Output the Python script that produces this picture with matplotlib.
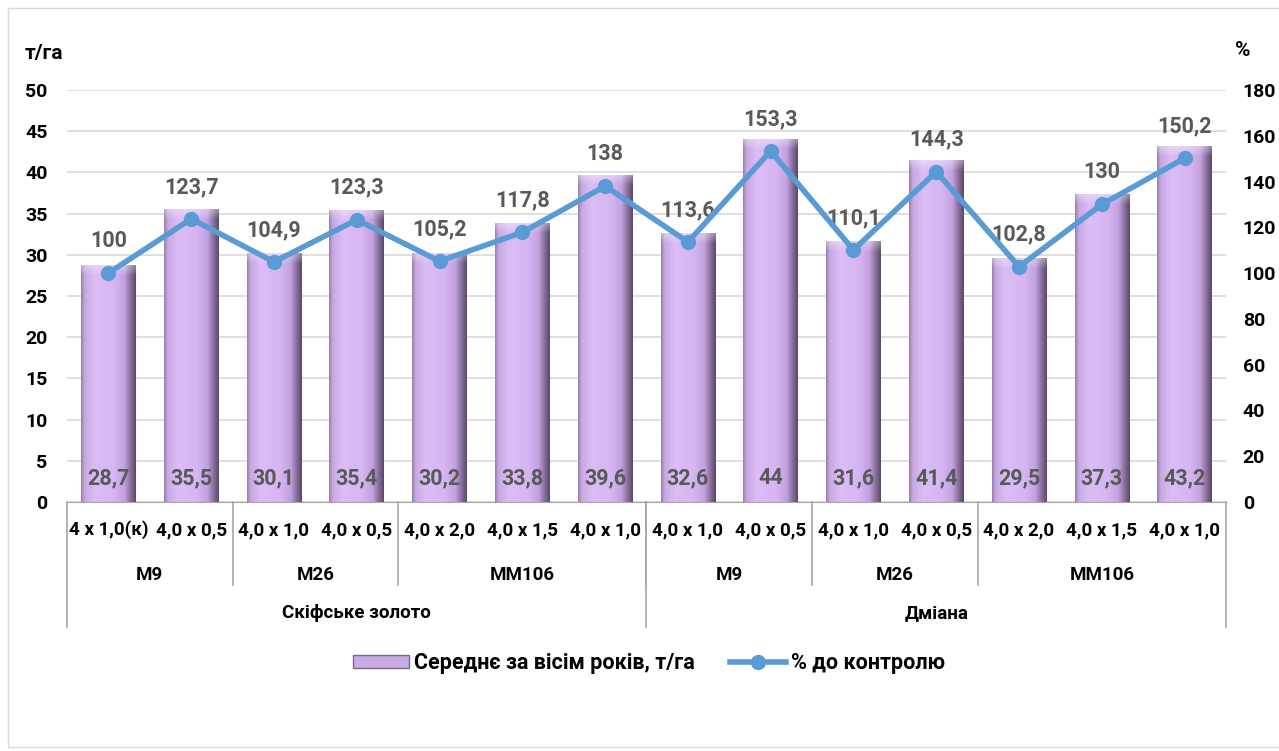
import numpy as np
import matplotlib
matplotlib.use('Agg')
import matplotlib.pyplot as plt
import matplotlib.transforms as mtransforms
from matplotlib.patches import Rectangle
from matplotlib.lines import Line2D

plt.rcParams['font.family'] = ['Roboto', 'DejaVu Sans']
plt.rcParams['font.weight'] = 'bold'

# ---- data ----
schemes = ['4 x 1,0(к)', '4,0 x 0,5', '4,0 x 1,0', '4,0 x 0,5', '4,0 x 2,0', '4,0 x 1,5', '4,0 x 1,0',
           '4,0 x 1,0', '4,0 x 0,5', '4,0 x 1,0', '4,0 x 0,5', '4,0 x 2,0', '4,0 x 1,5', '4,0 x 1,0']
rootstocks = ['М9', 'М26', 'ММ106', 'М9', 'М26', 'ММ106']
rootstock_sizes = [2, 2, 3, 2, 2, 3]
varieties = ['Скіфське золото', 'Дміана']
variety_sizes = [7, 7]
yield_t = [28.7, 35.5, 30.1, 35.4, 30.2, 33.8, 39.6, 32.6, 44, 31.6, 41.4, 29.5, 37.3, 43.2]
pct_control = [100, 123.7, 104.9, 123.3, 105.2, 117.8, 138, 113.6, 153.3, 110.1, 144.3, 102.8, 130, 150.2]

bar_label = 'Середнє за вісім років, т/га'
line_label = '% до контролю'

def fmt(v):
    s = ('%.1f' % v).rstrip('0').rstrip('.')
    return s.replace('.', ',')

fig = plt.figure(figsize=(12.79, 7.51), dpi=100)
ax = fig.add_axes([67/1279, 1-502/751, (1226-67)/1279, (502-90)/751])
ax2 = ax.twinx()

n = len(schemes)
x = np.arange(n)
ax.set_xlim(-0.5, n-0.5)
ax.set_ylim(0, 50)
ax2.set_ylim(0, 180)
ax.set_yticks(range(0, 51, 5))
ax2.set_yticks(range(0, 181, 20))
ax.grid(axis='y', color='#D9D9D9', lw=1.2)
ax.set_axisbelow(True)
for a in (ax, ax2):
    for s in a.spines.values():
        s.set_visible(False)
    a.tick_params(length=0, labelsize=14)
ax.spines['bottom'].set_visible(True)
ax.spines['bottom'].set_color('#A6A6A6')
ax.set_xticks([])
ax.tick_params(axis='y', pad=14)
ax2.tick_params(axis='y', pad=12)

# cylinder-like bars drawn as gradient images
bw = 0.66
prof_x = np.linspace(0, 1, 60)
stops = [0, 0.06, 0.25, 0.6, 0.8, 0.9, 1.0]
cols = np.array([[0.60, 0.50, 0.70], [0.78, 0.66, 0.88], [0.86, 0.74, 0.96], [0.84, 0.71, 0.95],
                 [0.76, 0.63, 0.87], [0.55, 0.45, 0.63], [0.36, 0.29, 0.42]])
prof = np.stack([np.interp(prof_x, stops, cols[:, c]) for c in range(3)], axis=1)
px_per_unit = (502-90)/50
for xi, h in zip(x, yield_t):
    rows = max(int(h*px_per_unit), 2)
    img = np.repeat(prof[None, :, :], rows, axis=0)
    cap = 10
    for r in range(cap):
        k = 1 - r/cap
        img[r] = img[r] + (1 - img[r]) * 0.35 * k
    ax.imshow(img, extent=[xi-bw/2, xi+bw/2, 0, h], aspect='auto', zorder=2,
              interpolation='bilinear', origin='upper')
ax.set_xlim(-0.5, n-0.5)
ax.set_ylim(0, 50)

for xi, h in zip(x, yield_t):
    ax.text(xi, 2.9, fmt(h), ha='center', va='center', color='#595959', fontsize=15.5, zorder=5)

ax2.plot(x, pct_control, color='#5B9BD5', lw=4, marker='o', ms=10, zorder=4)
ax2.set_zorder(ax.get_zorder()+1)
ax2.patch.set_visible(False)
for xi, v in zip(x, pct_control):
    ax2.annotate(fmt(v), (xi, v), xytext=(0, 23), textcoords='offset points',
                 ha='center', va='center', color='#595959', fontsize=15.5)

# hierarchical category axis
tr = mtransforms.blended_transform_factory(ax.transData, fig.transFigure)
def fy(py):
    return 1 - py/751
for xi, s in zip(x, schemes):
    ax.text(xi, fy(530), s, transform=tr, ha='center', va='center', fontsize=13.5)
start = 0
for name, size in zip(rootstocks, rootstock_sizes):
    ax.text(start + (size-1)/2, fy(575), name, transform=tr, ha='center', va='center', fontsize=13.5)
    start += size
    if start < n:
        ax.add_line(Line2D([start-0.5]*2, [fy(502), fy(585)], transform=tr, color='#A6A6A6',
                           lw=1.2, clip_on=False))
start = 0
for name, size in zip(varieties, variety_sizes):
    ax.text(start + (size-1)/2, fy(613), name, transform=tr, ha='center', va='center', fontsize=13.5)
    ax.add_line(Line2D([start-0.5]*2, [fy(502), fy(627)], transform=tr, color='#A6A6A6',
                       lw=1.2, clip_on=False))
    start += size
ax.add_line(Line2D([n-0.5]*2, [fy(502), fy(627)], transform=tr, color='#A6A6A6', lw=1.2, clip_on=False))

fig.text(25/1279, fy(54), 'т/га', ha='left', va='center', fontsize=15)
fig.text(1235/1279, fy(50), '%', ha='left', va='center', fontsize=15)

# legend
bar_handle = Rectangle((0, 0), 1, 1, facecolor='#C8ABE3', edgecolor='#7A6690', lw=1)
line_handle = Line2D([], [], color='#5B9BD5', lw=4, marker='o', ms=10)
fig.legend([bar_handle, line_handle], [bar_label, line_label], loc='center',
           bbox_to_anchor=(649/1279, fy(663)), ncol=2, frameon=False, fontsize=15.5,
           handlelength=2.6, handleheight=0.55, handletextpad=0.25, columnspacing=1.6)

fig.patches.append(Rectangle((8/1279, 4/751), 1290/1279, 739/751, transform=fig.transFigure,
                             fill=False, edgecolor='#D9D9D9', lw=1))

fig.savefig('out.png', dpi=100)
